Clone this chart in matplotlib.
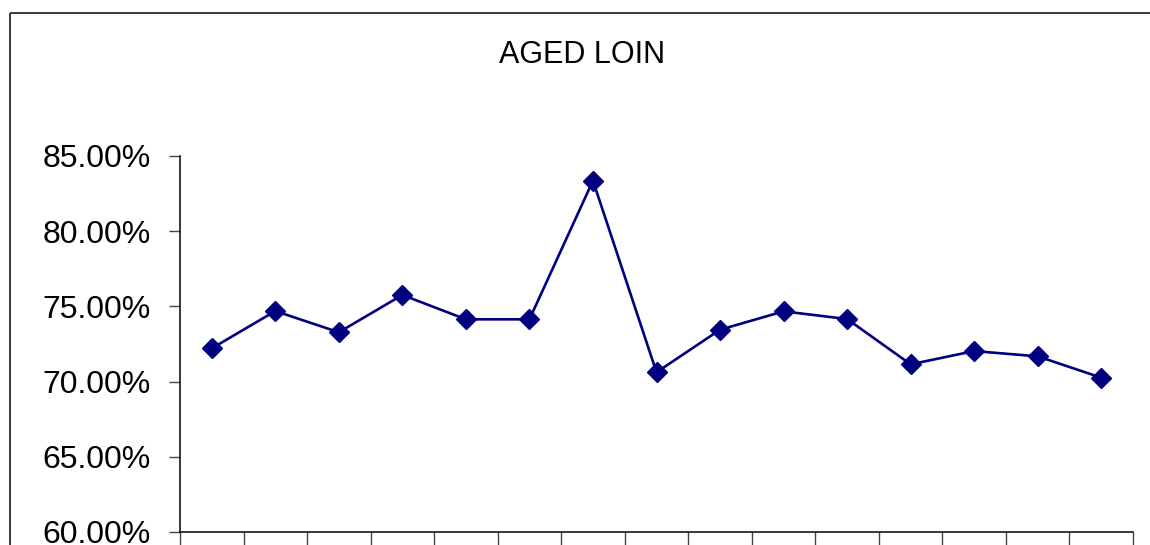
import matplotlib
matplotlib.use("Agg")
import matplotlib.pyplot as plt
from matplotlib.lines import Line2D
from matplotlib.ticker import FuncFormatter

plt.rcParams['font.family'] = ['Liberation Sans', 'DejaVu Sans']

# yield per sample, percent
samples = list(range(1, 16))
aged_loin = [72.21, 74.69, 73.28, 75.76, 74.14, 74.14, 83.36, 70.62,
             73.45, 74.67, 74.16, 71.15, 72.03, 71.68, 70.26]
y_ticks = [60, 65, 70, 75, 80, 85]

fig = plt.figure(figsize=(11.5, 5.45), dpi=100)
ax = fig.add_axes([180 / 1150, 13 / 545, 953 / 1150, 376 / 545])

# chart area border (left and top edges only, the rest runs off the page)
bx, by = 9.5 / 1150, 532 / 545
fig.add_artist(Line2D([bx, bx], [0, by], transform=fig.transFigure,
                      color='#1a1a1a', linewidth=1.2, solid_capstyle='butt'))
fig.add_artist(Line2D([bx, 1.0], [by, by], transform=fig.transFigure,
                      color='#1a1a1a', linewidth=1.2, solid_capstyle='butt'))

x = [i - 0.5 for i in samples]
ax.plot(x, aged_loin, color='#000080', linewidth=1.9, marker='D',
        markersize=10, markerfacecolor='#000080', markeredgecolor='#000080')

ax.set_xlim(0, len(samples))
ax.set_ylim(60, 85)
ax.set_yticks(y_ticks)
ax.yaxis.set_major_formatter(FuncFormatter(lambda v, p: f"{v:.2f}%"))
ax.set_xticks(range(0, len(samples) + 1))
ax.set_xticklabels([])

for side in ('top', 'right'):
    ax.spines[side].set_visible(False)
for side in ('left', 'bottom'):
    ax.spines[side].set_color('black')
    ax.spines[side].set_linewidth(1.1)

ax.tick_params(axis='y', direction='out', length=8, width=1.0, color='#444444',
               labelsize=23, pad=13, labelcolor='black')
ax.tick_params(axis='x', direction='out', length=10, width=1.0, color='#444444')

fig.text(582.5 / 1150, 482.3 / 545, "AGED LOIN", ha='center', va='baseline',
         fontsize=22, color='black')

fig.savefig("out.png", dpi=100)
